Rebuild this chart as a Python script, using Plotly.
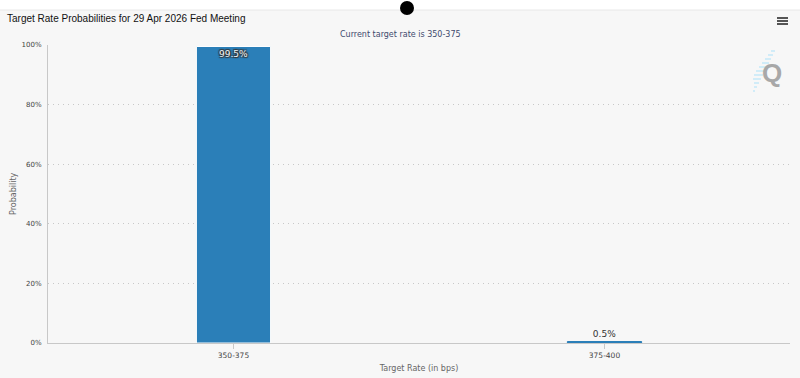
import plotly.graph_objects as go

# ---- data ----
categories = ["350-375", "375-400"]
probabilities = [99.5, 0.5]
value_labels = ["99.5%", "0.5%"]
y_ticks = [0, 20, 40, 60, 80, 100]
y_tick_labels = ["0%", "20%", "40%", "60%", "80%", "100%"]

W, H = 800, 378
ML, MR, MT, MB = 48, 10, 45, 35
PW, PH = W - ML - MR, H - MT - MB


def px(x):
    return (x - ML) / PW


def py(y):
    return (H - MB - y) / PH


BG = "#f7f7f7"
BAR = "#2b7fb8"

fig = go.Figure()
fig.add_trace(go.Bar(
    x=categories,
    y=probabilities,
    text=value_labels,
    textposition=["inside", "outside"],
    insidetextanchor="end",
    textangle=0,
    cliponaxis=False,
    insidetextfont=dict(family="DejaVu Sans", size=9, color="#f4f4f4",
                        shadow="1px 1px 1px #333, -1px -1px 1px #333, 1px -1px 1px #333, -1px 1px 1px #333"),
    outsidetextfont=dict(family="DejaVu Sans", size=9, color="#333333"),
    marker=dict(color=BAR, line=dict(color=["white", BAR], width=1)),
    hoverinfo="skip",
))

shapes = []
# white band at the top
shapes.append(dict(type="rect", xref="paper", yref="paper",
                   x0=px(0), x1=px(W), y0=py(10), y1=py(0),
                   fillcolor="white", line=dict(width=0), layer="below"))
shapes.append(dict(type="line", xref="paper", yref="paper",
                   x0=px(0), x1=px(W), y0=py(10), y1=py(10),
                   line=dict(color="#e8e8e8", width=1), layer="below"))
# black dot
shapes.append(dict(type="circle", xref="paper", yref="paper",
                   xsizemode="pixel", ysizemode="pixel",
                   xanchor=px(407), yanchor=py(8),
                   x0=-7, x1=7, y0=-7, y1=7,
                   fillcolor="black", line=dict(width=0)))
# hamburger menu
for yy in (18, 21, 24):
    shapes.append(dict(type="line", xref="paper", yref="paper",
                       x0=px(777), x1=px(788), y0=py(yy), y1=py(yy),
                       line=dict(color="#555555", width=2)))
# logo streaks (diagonal)
streaks = [(771, 775, 51), (768, 773, 55), (765, 771, 59), (762, 769, 63),
           (759, 767, 67), (756, 765, 71), (754, 763, 75), (753, 761, 79),
           (754, 759, 83), (754, 757, 87), (753, 755, 91)]
for x0, x1, yy in streaks:
    shapes.append(dict(type="line", xref="paper", yref="paper",
                       x0=px(x0), x1=px(x1), y0=py(yy), y1=py(yy),
                       line=dict(color="#c4e8f8", width=1.5)))

annotations = [
    dict(text="Current target rate is 350-375", xref="paper", yref="paper",
         x=px(400), y=py(34), xanchor="center", yanchor="middle", showarrow=False,
         font=dict(family="DejaVu Sans", size=8, color="#3e4a6e")),
    dict(text="<b>Q</b>", xref="paper", yref="paper",
         x=px(772), y=py(73), xanchor="center", yanchor="middle", showarrow=False,
         font=dict(family="Liberation Sans", size=26, color="#a8a8a8")),
    dict(text="Probability", xref="paper", yref="paper",
         x=px(13), y=py(194), xanchor="center", yanchor="middle", showarrow=False,
         textangle=-90,
         font=dict(family="DejaVu Sans", size=8, color="#666666")),
]

fig.update_layout(
    width=W, height=H,
    margin=dict(l=ML, r=MR, t=MT, b=MB, pad=0, autoexpand=False),
    paper_bgcolor=BG, plot_bgcolor=BG,
    showlegend=False,
    bargap=0.8,
    title=dict(text="Target Rate Probabilities for 29 Apr 2026 Fed Meeting",
               x=7 / W, xanchor="left", xref="container",
               y=1 - 18 / H, yanchor="middle", yref="container",
               font=dict(family="Liberation Sans", size=10, color="#111111")),
    shapes=shapes,
    annotations=annotations,
    xaxis=dict(
        automargin=False,
        showgrid=False, showline=True, linecolor="#c8c8c8", linewidth=1,
        ticks="outside", ticklen=5, tickcolor="#c8c8c8",
        tickfont=dict(family="DejaVu Sans", size=7.5, color="#444444"),
        title=dict(text="Target Rate (in bps)", standoff=6,
                   font=dict(family="DejaVu Sans", size=8, color="#666666")),
        fixedrange=True,
    ),
    yaxis=dict(
        automargin=False,
        range=[0, 100], tickvals=y_ticks, ticktext=y_tick_labels,
        showgrid=True, gridcolor="#c8c8c8", griddash="1px,4px", gridwidth=1,
        showline=True, linecolor="#c8c8c8", linewidth=1,
        zeroline=False, ticks="outside", ticklen=4, tickcolor="rgba(0,0,0,0)",
        tickfont=dict(family="DejaVu Sans", size=7, color="#444444"),
        fixedrange=True,
    ),
)

fig.write_html("out.html", config=dict(displayModeBar=False),
               post_script="document.body.style.margin='0';document.body.style.overflow='hidden';")
